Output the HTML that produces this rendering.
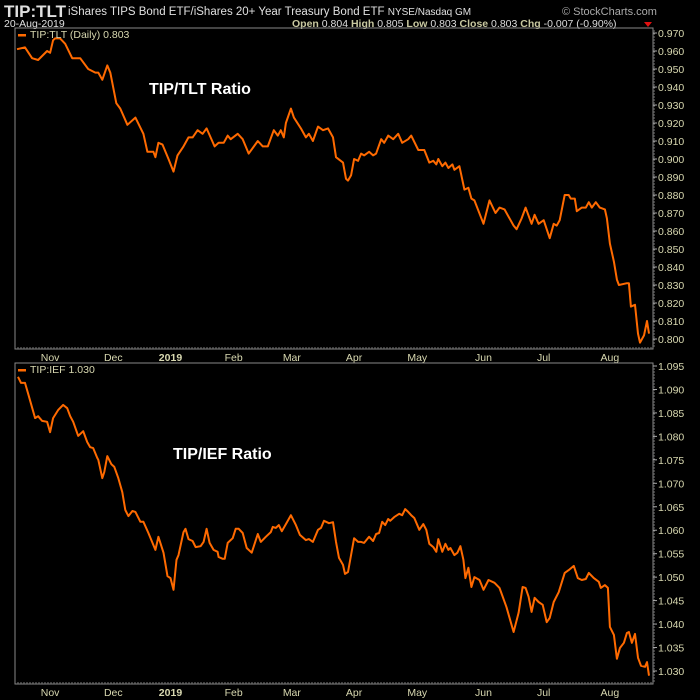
<!DOCTYPE html>
<html><head><meta charset="utf-8"><style>
body{margin:0;background:#000;width:700px;height:700px;overflow:hidden;font-family:"Liberation Sans",sans-serif}
svg{display:block}
</style></head><body>
<svg id="c" width="700" height="700" xmlns="http://www.w3.org/2000/svg">
<rect x="0" y="0" width="700" height="700" fill="#000"/>
<text x="4" y="17" fill="#e0e0e0" font-size="17" font-weight="bold">TIP:TLT</text>
<text x="68" y="15" fill="#e0e0e0" font-size="11.5">iShares TIPS Bond ETF/iShares 20+ Year Treasury Bond ETF  <tspan font-size="10">NYSE/Nasdaq GM</tspan></text>
<text x="562" y="15" fill="#aaa" font-size="11">© StockCharts.com</text>
<text x="4" y="27" fill="#e0e0e0" font-size="10.5">20-Aug-2019</text>
<text x="292" y="27" fill="#ddd" font-size="10.5"><tspan font-weight="bold" fill="#c8c8a0">Open</tspan> 0.804 <tspan font-weight="bold" fill="#c8c8a0">High</tspan> 0.805 <tspan font-weight="bold" fill="#c8c8a0">Low</tspan> 0.803 <tspan font-weight="bold" fill="#c8c8a0">Close</tspan> 0.803 <tspan font-weight="bold" fill="#c8c8a0">Chg</tspan> -0.007 (-0.90%)</text>
<polygon points="644,22 652,22 648,27" fill="#e01010"/>
<g id="p1"></g><g id="p2"></g>
<text x="149" y="94" fill="#fff" font-size="16" font-weight="bold">TIP/TLT Ratio</text>
<text x="173" y="459" fill="#fff" font-size="16" font-weight="bold">TIP/IEF Ratio</text>
</svg>
<script>
// time coordinate (trading session units, 0 = first session shown)
const tTop=[1,9,16,22,31,34,37,39,44,49,56,64,72,79,82,86,91,94,100,104,111,119,127,131,137,139,142,146,152,157,161,167,172,176,181,186,190,194,198,202,207,211,214,221,226,232,241,246,251,257,261,264,267,269,274,277,284,289,292,296,301,306,311,316,
319,326,329,331,334,337,341,344,347,352,356,359,364,367,371,376,381,385,391,394,401,407,412,416,419,421,425,428,431,435,437,442,447,451,454,457,466,472,478,482,487,496,499,504,508,514,517,521,526,532,536,539,542,547,551,553,557,559,564,568,571,574,578,582,587,589,592,596,599,601,609,611,613,617,620,622,626,629,631];
const vTop=[.961,.962,.956,.955,.960,.959,.966,.967,.967,.964,.956,.956,.950,.948,.948,.944,.952,.948,.931,.928,.919,.923,.914,.904,.904,.901,.909,.908,.900,.893,.902,.907,.912,.912,.916,.914,.917,.912,.907,.909,.909,.913,.911,.914,.911,.903,.910,.907,.907,.916,.913,.916,.912,.920,.928,.923,.917,.912,.914,.910,.918,.916,.917,.912,
.901,.898,.889,.888,.891,.900,.899,.903,.902,.904,.902,.903,.911,.909,.913,.911,.914,.909,.911,.913,.905,.905,.898,.899,.897,.900,.896,.898,.895,.897,.894,.896,.883,.884,.878,.877,.864,.877,.870,.873,.872,.863,.861,.867,.873,.864,.869,.864,.866,.856,.864,.863,.866,.880,.880,.878,.878,.871,.873,.873,.876,.873,.876,.873,.872,.867,.853,.843,.833,.830,.831,.831,.818,.819,.803,.798,.802,.810,.803];
const tBot=[2,5,9,12,19,22,26,31,34,37,42,47,51,54,57,62,67,71,74,77,81,82,86,88,91,95,98,102,106,109,112,116,119,124,127,132,139,142,147,151,154,157,160,162,167,169,172,176,179,184,187,190,193,197,201,202,206,208,211,216,219,222,226,230,235,241,244,249,254,256,259,262,265,269,274,279,283,289,292,296,301,304,307,312,316,
319,322,326,328,331,337,341,344,347,352,356,359,362,365,368,371,373,377,382,385,388,391,394,397,402,406,409,412,416,419,421,425,428,431,433,437,440,443,446,448,451,454,457,462,466,471,477,482,489,496,501,505,508,511,514,517,521,525,529,532,536,541,547,551,556,560,564,568,571,576,581,583,587,590,592,596,599,602,606,609,611,614,617,620,623,627,629,631];
const vBot=[1.0927,1.0914,1.0914,1.0892,1.0839,1.0843,1.0833,1.0831,1.0809,1.0839,1.0856,1.0867,1.0860,1.0843,1.0831,1.0801,1.0811,1.0788,1.0777,1.0775,1.0754,1.0750,1.0711,1.0724,1.0758,1.0741,1.0735,1.0711,1.0681,1.0643,1.0630,1.0641,1.0639,1.0618,1.0618,1.0594,1.0558,1.0586,1.0552,1.0502,1.0498,1.0473,1.0537,1.0547,1.0596,1.0603,1.0581,1.0577,1.0564,1.0566,1.0575,1.0603,1.0573,1.0558,1.0554,1.0543,1.0539,1.0539,1.0573,1.0583,1.0603,1.0603,1.0594,1.0562,1.0552,1.0592,1.0575,1.0586,1.0596,1.0607,1.0605,1.0611,1.0598,1.0613,1.0632,1.0611,1.0590,1.0579,1.0581,1.0575,1.0601,1.0605,1.0620,1.0615,1.0617,
1.0575,1.0541,1.0526,1.0507,1.0511,1.0583,1.0575,1.0575,1.0573,1.0586,1.0577,1.0592,1.0594,1.0618,1.0611,1.0624,1.0620,1.0628,1.0635,1.0632,1.0645,1.0639,1.0632,1.0626,1.0601,1.0613,1.0601,1.0571,1.0564,1.0554,1.0581,1.0554,1.0571,1.0558,1.0562,1.0547,1.0552,1.0566,1.0537,1.0498,1.0520,1.0479,1.0500,1.0494,1.0473,1.0494,1.0488,1.0477,1.0436,1.0383,1.0424,1.0479,1.0477,1.0458,1.0426,1.0456,1.0447,1.0441,1.0404,1.0413,1.0447,1.0468,1.0509,1.0515,1.0524,1.0498,1.0494,1.0496,1.0509,1.0498,1.0490,1.0477,1.0483,1.0477,1.0394,1.0377,1.0326,1.0349,1.0360,1.0381,1.0383,1.0360,1.0379,1.0328,1.0311,1.0309,1.0319,1.0290];
const monthLabels=["Nov","Dec","2019","Feb","Mar","Apr","May","Jun","Jul","Aug"];
const monthT=[34,97,154,217,275,337,400,466,526,592];
const ticksTop=[.970,.960,.950,.940,.930,.920,.910,.900,.890,.880,.870,.860,.850,.840,.830,.820,.810,.800];
const ticksBot=[1.095,1.090,1.085,1.080,1.075,1.070,1.065,1.060,1.055,1.050,1.045,1.040,1.035,1.030];

const NS="http://www.w3.org/2000/svg";
const L=15,R=653,T0=0,T1=632;
const xS=t=>L+1+(t-T0)/(T1-T0)*(R-L-4);
function mk(tag,attrs,parent){const e=document.createElementNS(NS,tag);for(const k in attrs)e.setAttribute(k,attrs[k]);parent.appendChild(e);return e;}
function panel(g,top,bot,yS,ticks,dec,ts,vs,legend,name){
  const fr=mk('rect',{x:L,y:top,width:R-L,height:bot-top,fill:'none',stroke:'#888','stroke-width':1},g);
  
  
  // small minor ticks along bottom
  for(let x=L+3;x<R;x+=3){const m=mk('line',{x1:x,y1:bot-2,x2:x,y2:bot,stroke:'#777','stroke-width':1},g);
    
    }
  for(let y=top+3;y<bot;y+=3){const m=mk('line',{x1:R,y1:y,x2:R+2,y2:y,stroke:'#777','stroke-width':1},g);
    
    }
  ticks.forEach(v=>{const y=yS(v);
    const tl=mk('line',{x1:R,y1:y,x2:R+4,y2:y,stroke:'#aaa'},g);
    
    
    const tx=mk('text',{x:R+5,y:y+4,fill:'#d8d8b0','font-size':10.5},g);
    tx.textContent=v.toFixed(dec);
    
    });
  monthLabels.forEach((m,i)=>{const x=xS(monthT[i]);
    const tx=mk('text',{x:x,y:bot+12,fill:'#d8d8b0','font-size':10.5,'text-anchor':'middle','font-weight':m==='2019'?'bold':'normal'},g);
    tx.textContent=m;
    
    });
  const d=ts.map((t,i)=>(i?'L':'M')+xS(t).toFixed(1)+','+yS(vs[i]).toFixed(1)).join('');
  mk('clipPath',{id:name+'clip'},g).appendChild(document.createElementNS(NS,'rect'));
  const cr=g.lastChild.firstChild;cr.setAttribute('x',L+1);cr.setAttribute('y',top+1);cr.setAttribute('width',R-L-2);cr.setAttribute('height',bot-top-2);
  const p=mk('path',{d:d,fill:'none',stroke:'#ff6a00','stroke-width':2,'stroke-linejoin':'round','clip-path':'url(#'+name+'clip)'},g);
  
  
  const lm=mk('rect',{x:18,y:top+6,width:8,height:2.5,fill:'#ff6a00'},g);
  
  
  const lt=mk('text',{x:30,y:top+10,fill:'#d8d8b0','font-size':10.5},g);
  lt.textContent=legend;
  
  
}
const yTop=v=>33+(0.970-v)*1800;
const yBot=v=>366+(1.095-v)*4692;
panel(document.getElementById('p1'),28,349,yTop,ticksTop,3,tTop,vTop,'TIP:TLT (Daily) 0.803','tip-tlt');
panel(document.getElementById('p2'),363,684,yBot,ticksBot,3,tBot,vBot,'TIP:IEF 1.030','tip-ief');
</script>
</body></html>
